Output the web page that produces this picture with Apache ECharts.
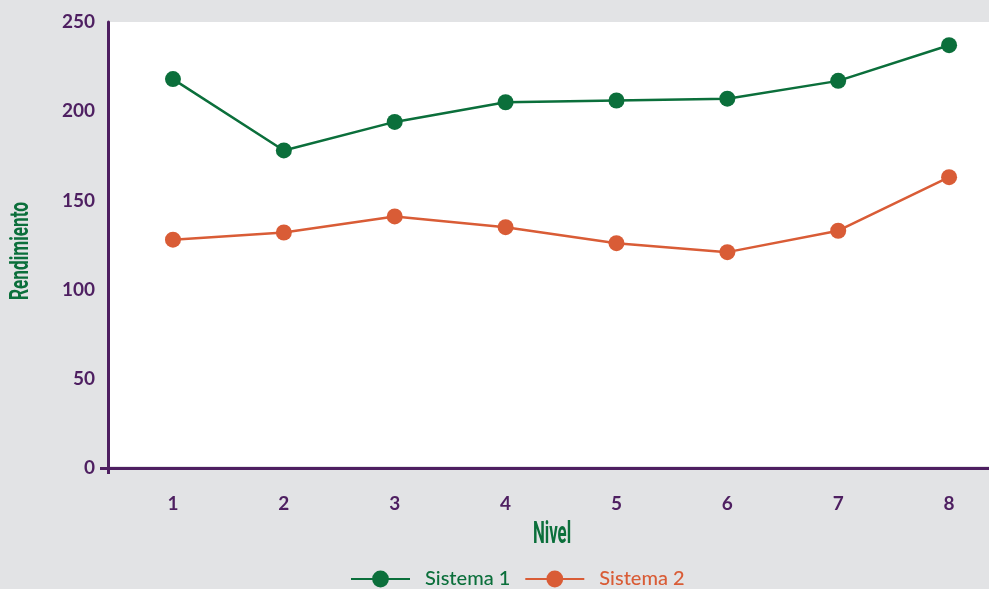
<!DOCTYPE html>
<html>
<head>
<meta charset="utf-8">
<script src="https://cdn.jsdelivr.net/npm/echarts@6/dist/echarts.min.js"></script>
<style>
  html, body { margin: 0; padding: 0; background: #e2e3e5; }
  #chart { width: 989px; height: 589px; }
</style>
</head>
<body>
<div id="chart"></div>
<script>
// Niveles (eje X) y rendimiento de cada sistema
const niveles = [1, 2, 3, 4, 5, 6, 7, 8];
const sistema1 = [218, 178, 194, 205, 206, 207, 217, 237];
const sistema2 = [128, 132, 141, 135, 126, 121, 133, 163];
const yTicks = [0, 50, 100, 150, 200, 250];

const PURPLE = '#4e1f61';
const GREEN = '#0b6f3b';
const ORANGE = '#d95c36';

const chart = echarts.init(document.getElementById('chart'), null, { renderer: 'canvas' });

const pairs = arr => niveles.map((n, i) => [n, arr[i]]);

chart.setOption({
  backgroundColor: '#e2e3e5',
  animation: false,
  grid: {
    left: 108, right: 0, top: 22, bottom: 121,
    show: true, backgroundColor: '#ffffff', borderWidth: 0
  },
  xAxis: {
    type: 'value',
    min: 0.414, max: 8.36,
    axisLine: { show: true, onZero: false, lineStyle: { color: PURPLE, width: 3 } },
    axisTick: { show: true, customValues: [0.414], length: 6, lineStyle: { color: PURPLE, width: 3 } },
    splitLine: { show: false },
    axisLabel: {
      customValues: niveles,
      formatter: v => String(v),
      color: PURPLE, fontFamily: 'Lato', fontSize: 19, fontWeight: 'bold', margin: 26
    }
  },
  yAxis: {
    type: 'value',
    min: yTicks[0], max: yTicks[yTicks.length - 1], interval: 50,
    axisLine: { show: true, lineStyle: { color: PURPLE, width: 3 } },
    axisTick: { show: true, customValues: [0], length: 8, lineStyle: { color: PURPLE, width: 3 } },
    splitLine: { show: true, lineStyle: { color: '#e5e6e8', width: 4 } },
    axisLabel: {
      customValues: yTicks,
      color: PURPLE, fontFamily: 'Lato', fontSize: 19, fontWeight: 'bold', margin: 13
    }
  },
  legend: {
    left: 345, top: 564,
    itemWidth: 59, itemHeight: 21, itemGap: 14,
    textStyle: { fontFamily: 'Lato', fontSize: 20, fontWeight: 500, padding: [0, 0, 0, 10] },
    data: [
      { name: 'Sistema 1', textStyle: { color: GREEN } },
      { name: 'Sistema 2', textStyle: { color: ORANGE } }
    ]
  },
  graphic: [
    {
      type: 'text', x: 552, y: 535, scaleX: 0.8, scaleY: 1.45,
      style: { text: 'Nivel', fill: GREEN, font: 'bold 21px Roboto', align: 'center', verticalAlign: 'middle' }
    },
    {
      type: 'text', x: 22, y: 251, rotation: Math.PI / 2, scaleX: 0.82, scaleY: 1.2,
      style: { text: 'Rendimiento', fill: GREEN, font: 'bold 21px Roboto', align: 'center', verticalAlign: 'middle' }
    }
  ],
  series: [
    {
      name: 'Sistema 1', type: 'line', data: pairs(sistema1),
      symbol: 'circle', symbolSize: 16,
      lineStyle: { color: GREEN, width: 2.5 },
      itemStyle: { color: GREEN }
    },
    {
      name: 'Sistema 2', type: 'line', data: pairs(sistema2),
      symbol: 'circle', symbolSize: 16,
      lineStyle: { color: ORANGE, width: 2.5 },
      itemStyle: { color: ORANGE }
    }
  ]
});
</script>
</body>
</html>
